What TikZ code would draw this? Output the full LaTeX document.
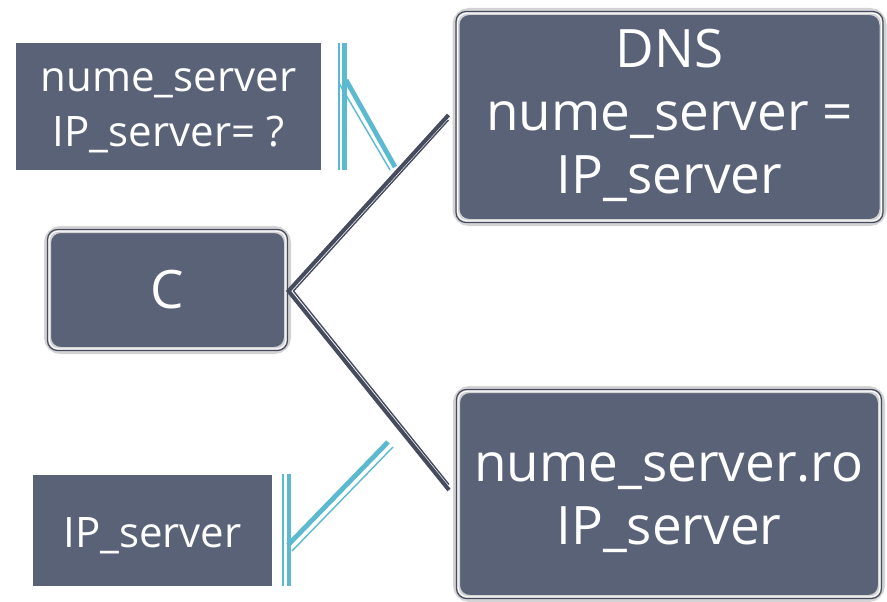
\documentclass[tikz,border=0pt]{standalone}
\usepackage{fontspec}
\setmainfont{Open Sans}
\usetikzlibrary{calc,backgrounds}
\definecolor{boxfill}{HTML}{5A6277}
\definecolor{outergray}{HTML}{D3D3D6}
\definecolor{darkline}{HTML}{464C5E}
\definecolor{cyanline}{HTML}{5BBAD0}
\tikzset{
  fancybox/.style={fill=boxfill, draw=outergray, line width=7pt, rounded corners=13pt,
     inner sep=0pt},
  plainbox/.style={fill=boxfill, draw=none, inner sep=0pt},
  txt/.style={text=white, align=center, inner sep=0pt},
  bigtext/.style={txt, font=\fontsize{53}{63}\selectfont},
  smalltext/.style={txt, font=\fontsize{42}{55}\selectfont},
  connthick/.style={draw=darkline, line width=4pt, line join=miter},
  connthin/.style={draw=darkline, line width=1.4pt, line join=miter},
  cythick/.style={draw=cyanline, line width=4.8pt},
  cythin/.style={draw=cyanline, line width=1.4pt},
}
\newcommand{\innerline}[1]{%
  \draw[darkline, line width=1.2pt, rounded corners=10pt]
    ($(#1.south west)+(3.5pt,3.5pt)$) rectangle ($(#1.north east)-(3.5pt,3.5pt)$);
  \draw[white, line width=1pt, rounded corners=9pt]
    ($(#1.south west)+(5.2pt,5.2pt)$) rectangle ($(#1.north east)-(5.2pt,5.2pt)$);}
\begin{document}
\begin{tikzpicture}[x=1pt,y=1pt]
\useasboundingbox (0,0) rectangle (887,-602);
\fill[white] (0,0) rectangle (887,-602);

% plain boxes
\node[plainbox, minimum width=305pt, minimum height=127pt] (q) at (168.5,-106.5) {};
\node[smalltext] (qt) at (168.5,-111) {nume\_server\\IP\_server= ?};
\node[plainbox, minimum width=239pt, minimum height=111pt] (ans) at (152.5,-530.5) {};
\node[smalltext] (anst) at (152.5,-536) {IP\_server};

% framed boxes
\node[fancybox, minimum width=240pt, minimum height=121pt] (c) at (167.5,-290) {};
\innerline{c}
\node[bigtext] (ct) at (167.5,-290) {C};
\node[fancybox, minimum width=427pt, minimum height=211pt] (dns) at (669.5,-117) {};
\innerline{dns}
\node[bigtext] (dnst) at (669.5,-115) {DNS\\nume\_server =\\IP\_server};
\node[fancybox, minimum width=425pt, minimum height=209pt] (srv) at (669,-494) {};
\innerline{srv}
\node[bigtext] (srvt) at (669,-503) {nume\_server.ro\\IP\_server};

% connectors
\coordinate (cv) at ($(c.east)+(-2.5,-1)$);
\coordinate (cvi) at ($(cv)+(5,0)$);
\coordinate (dn) at ($(dns.west)+(-4,2)$);
\coordinate (dni) at ($(dn)+(0,-5)$);
\coordinate (sn) at ($(srv.west)+(-4,4)$);
\coordinate (sni) at ($(sn)+(0,5.5)$);
\draw[connthick] (dn) -- (cv) -- (sn);
\draw[connthin] (dni) -- (cvi) -- (sni);

% cyan marks (top)
\coordinate (t1) at (344.5,-43);
\coordinate (t2) at (344.5,-170);
\coordinate (t3) at (338.8,-43);
\coordinate (t4) at (338.8,-170);
\coordinate (td1) at (346,-80);
\coordinate (td2) at (395,-167);
\coordinate (td3) at (339.5,-84);
\coordinate (td4) at (390,-170);
\draw[cythick] (t1) -- (t2);
\draw[cythin] (t3) -- (t4);
\draw[cythick] (td1) -- (td2);
\draw[cythin] (td3) -- (td4);

% cyan marks (bottom)
\coordinate (b1) at (289,-474);
\coordinate (b2) at (289,-586);
\coordinate (b3) at (282.8,-474);
\coordinate (b4) at (282.8,-586);
\coordinate (bd1) at (288,-545);
\coordinate (bd2) at (388,-442);
\coordinate (bd3) at (292,-551);
\coordinate (bd4) at (393,-447);
\draw[cythick] (b1) -- (b2);
\draw[cythin] (b3) -- (b4);
\draw[cythick] (bd1) -- (bd2);
\draw[cythin] (bd3) -- (bd4);
\end{tikzpicture}
\end{document}
